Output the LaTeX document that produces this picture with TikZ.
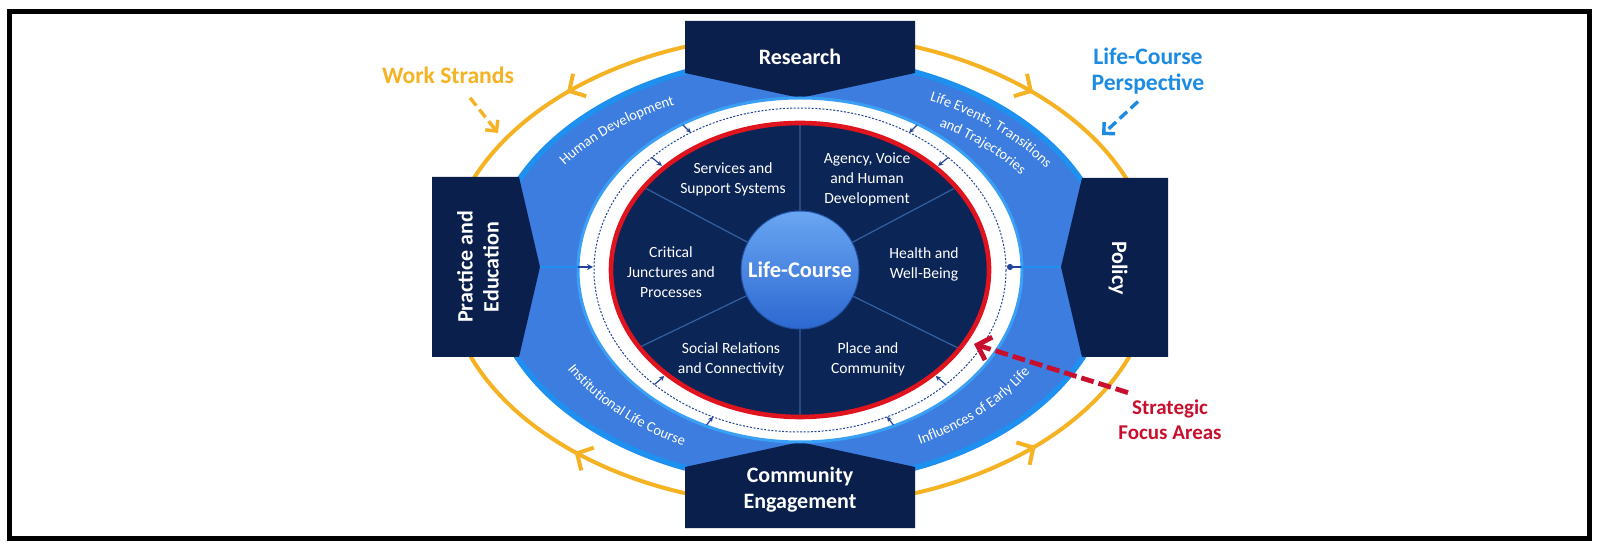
\documentclass[tikz,border=0pt]{standalone}
\usepackage{fontspec}
\setmainfont{Carlito}
\usetikzlibrary{arrows.meta,decorations.text,decorations.markings,calc}
\definecolor{navybox}{HTML}{0A1F4C}
\definecolor{navyell}{HTML}{0C2557}
\definecolor{bandblue}{HTML}{3D7DDF}
\definecolor{bandedge}{HTML}{1E90F0}
\definecolor{ringedge}{HTML}{3AA0F5}
\definecolor{orangeline}{HTML}{F5B324}
\definecolor{lcblue}{HTML}{1C8CE3}
\definecolor{sfred}{HTML}{C8102E}
\definecolor{redring}{HTML}{E0141E}
\definecolor{sectline}{HTML}{34609F}
\definecolor{dashblue}{HTML}{23449A}
\definecolor{ballTop}{HTML}{6AA6F2}
\definecolor{ballBot}{HTML}{2C68D0}
\newcommand\bandfont{\fontsize{7.3}{8}\selectfont}
\begin{document}
\begin{tikzpicture}[x=0.5pt,y=-0.5pt,
  orangearc/.style={draw=orangeline, line width=2pt,
    decoration={markings, mark=at position #1 with {\arrow{Straight Barb[length=6pt,width=13pt]}}},
    postaction={decorate}},
  boxshape/.style={fill=navybox},
  boxlabel/.style={text=white, font=\bfseries\fontsize{11}{13}\selectfont, align=center, inner sep=0pt},
  sect/.style={text=white, font=\fontsize{7.8}{10}\selectfont, align=center, inner sep=0pt},
  annot/.style={font=\bfseries\fontsize{11.8}{13}\selectfont, align=center, inner sep=0pt},
  annotsmall/.style={font=\bfseries\fontsize{10.5}{12.5}\selectfont, align=center, inner sep=0pt},
  tick/.style={draw=dashblue, line width=0.6pt, -{Stealth[length=2.5pt,width=2.5pt]}},
  bandtext/.style={decorate, decoration={text along path, text align=center, text color=white, text={|\bandfont|#1}}}
]
\useasboundingbox (0,0) rectangle (1600,550);
\fill[white] (0,0) rectangle (1600,550);
\draw[line width=2.5pt] (9.5,12) rectangle (1589.5,538);

\coordinate (C) at (800,270);

% orange work-strand arcs
\coordinate (oR1) at ($(C)+(255:354 and 236)$);
\coordinate (oR2) at ($(C)+(285:354 and 236)$);
\coordinate (oC1) at ($(C)+(105:354 and 236)$);
\coordinate (oC2) at ($(C)+(75:354 and 236)$);
\draw[orangearc=0.51] (oR1) arc[start angle=255, end angle=199, x radius=354, y radius=236];
\draw[orangearc=0.51] (oR2) arc[start angle=285, end angle=341, x radius=354, y radius=236];
\draw[orangearc=0.48] (oC1) arc[start angle=105, end angle=161, x radius=354, y radius=236];
\draw[orangearc=0.52] (oC2) arc[start angle=75, end angle=19, x radius=354, y radius=236];

% blue band
\draw[fill=bandblue, draw=bandedge, line width=2.8pt] (C) ellipse[x radius=310, y radius=213];

% boxes
\fill[boxshape] (685,21) -- (915,21) -- (915,73) -- (800,98) -- (685,73) -- cycle;
\fill[boxshape] (685,528) -- (915,528) -- (915,467) -- (800,442) -- (685,467) -- cycle;
\fill[boxshape] (432,177) -- (519,177) -- (540,267) -- (519,357) -- (432,357) -- cycle;
\fill[boxshape] (1168,178) -- (1082,178) -- (1061,267) -- (1082,357) -- (1168,357) -- cycle;

% white ring
\draw[fill=white, draw=ringedge, line width=1.5pt] (C) ellipse[x radius=222, y radius=172];
\draw[dashblue, line width=0.5pt, dash pattern=on 1pt off 0.8pt] (C) ellipse[x radius=206, y radius=162];

% tip connectors
\coordinate (ptip) at (540,267);
\coordinate (qtip) at (1061,267);
\draw[draw=bandedge, line width=0.6pt] (ptip) -- (578,267);
\draw[draw=dashblue, line width=0.7pt, -{Stealth[length=3pt,width=3pt]}] (578,267) -- (593,267);
\draw[draw=bandedge, line width=0.6pt] (qtip) -- (1021,267);
\draw[draw=dashblue, line width=0.8pt, -{Circle[length=3pt]}] (1021,267) -- (1007,267);

% small ring arrows
\foreach \t in {238,302,115,65}{
  \draw[tick] ($(C)+(\t:221 and 171)$) -- ($(C)+(\t:206 and 162)$);
}
\foreach \t in {224,316,135,45}{
  \draw[tick] ($(C)+(\t:206 and 162)$) -- ($(C)+(\t:192 and 150)$);
}

% strategic focus ellipse
\fill[navyell] (C) ellipse[x radius=189, y radius=147];
\begin{scope}
  \clip (C) ellipse[x radius=189, y radius=147];
  \draw[sectline, line width=0.6pt] (C) -- ++(0,-200) (C) -- ++(0,200)
    (C) -- ++(310,-164) (C) -- ++(-310,-164) (C) -- ++(316,156) (C) -- ++(-320,154);
\end{scope}
\draw[redring, line width=2.3pt] (C) ellipse[x radius=189, y radius=147];

% centre ball
\node[circle, minimum size=59pt, inner sep=0pt, top color=ballTop, bottom color=ballBot,
  draw=ballBot!80!black, line width=0.5pt, text=white,
  font=\bfseries\fontsize{11.2}{13}\selectfont] (lc) at (C) {Life-Course};

% sector labels
\node[sect] (s1) at (733,179) {Services and\\Support Systems};
\node[sect] (s2) at (867,179) {Agency, Voice\\and Human\\Development};
\node[sect] (s3) at (671,272) {Critical\\Junctures and\\Processes};
\node[sect] (s4) at (924,264) {Health and\\Well-Being};
\node[sect] (s5) at (731,359) {Social Relations\\and Connectivity};
\node[sect] (s6) at (868,359) {Place and\\Community};

% band labels
\path[bandtext={Human Development}] ($(C)+(196:286 and 184)$) arc[start angle=196, end angle=258, x radius=286, y radius=184];
\path[bandtext={Life Events, Transitions}] ($(C)+(284:292 and 189)$) arc[start angle=284, end angle=344, x radius=292, y radius=189];
\path[bandtext={and Trajectories}] ($(C)+(286:268 and 168)$) arc[start angle=286, end angle=346, x radius=268, y radius=168];
\path[bandtext={Institutional Life Course}] ($(C)+(164:270 and 195)$) arc[start angle=164, end angle=104, x radius=270, y radius=195];
\path[bandtext={Influences of Early Life}] ($(C)+(76:270 and 195)$) arc[start angle=76, end angle=16, x radius=270, y radius=195];

% box labels
\node[boxlabel] (research) at (800,57) {Research};
\node[boxlabel] (community) at (800,490) {Community\\Engagement};
\node[boxlabel, rotate=90] (practice) at (478,267) {Practice and\\Education};
\node[boxlabel, rotate=-90] (policy) at (1118,268) {Policy};

% annotations
\node[annot, text=orangeline] (ws) at (448,75) {Work Strands};
\node[annot, text=lcblue] (lcp) at (1148,71) {Life-Course\\Perspective};
\node[annotsmall, text=sfred] (sfa) at (1170,420) {Strategic\\Focus Areas};
\coordinate (wsT) at (498,133);
\coordinate (lcpT) at (1102,135);
\coordinate (sfaT) at (974,344);
\draw[orangeline, line width=1.7pt, dash pattern=on 5pt off 2.5pt, -{Straight Barb[length=4pt,width=8pt]}]
  ([shift={(22,14)}]ws.south) -- (wsT);
\draw[lcblue, line width=1.7pt, dash pattern=on 5pt off 2.5pt, -{Straight Barb[length=4pt,width=8pt]}]
  ([shift={(-10,7)}]lcp.south) -- (lcpT);
\draw[sfred, line width=2.4pt, dash pattern=on 6.5pt off 2.5pt, -{Straight Barb[length=6pt,width=12pt]}]
  ([shift={(-42,-7)}]sfa.north) -- (sfaT);
\end{tikzpicture}
\end{document}
